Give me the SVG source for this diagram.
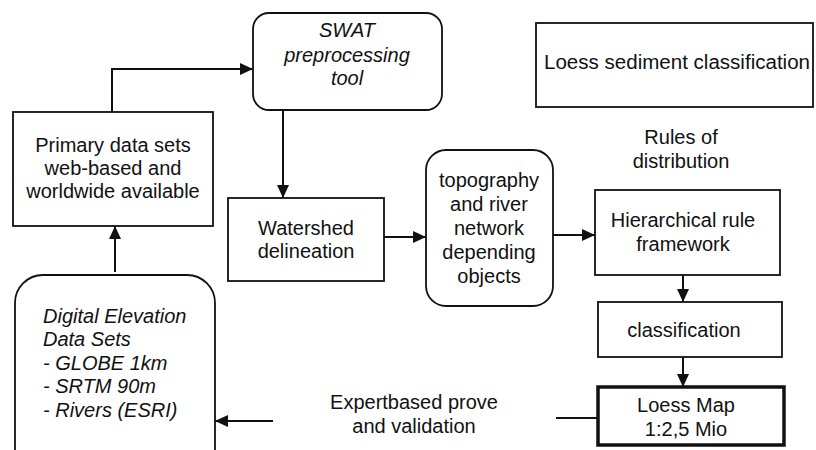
<svg xmlns="http://www.w3.org/2000/svg" width="816" height="450" viewBox="0 0 816 450">
<defs>
<style>
.box{fill:#fff;stroke:#111;stroke-width:1.8}
.thick{fill:#fff;stroke:#111;stroke-width:3.5}
.t{font-family:"Liberation Sans",Arial,sans-serif;font-size:20px;fill:#111;text-anchor:middle}
.i{font-style:italic}
.l{text-anchor:start}
.c{fill:none;stroke:#111;stroke-width:2}
</style>
<marker id="ah" markerUnits="userSpaceOnUse" markerWidth="13" markerHeight="12" refX="13" refY="6" orient="auto">
<path d="M0,0 L13,6 L0,12 z" fill="#111"/>
</marker>
</defs>
<rect width="816" height="450" fill="#fff"/>

<g id="connectors">
<path class="c" d="M112,112 V69 H253" marker-end="url(#ah)"/>
<path class="c" d="M283,110 V198" marker-end="url(#ah)"/>
<path class="c" d="M384,237 H426" marker-end="url(#ah)"/>
<path class="c" d="M553,235 H595" marker-end="url(#ah)"/>
<path class="c" d="M683,275 V302" marker-end="url(#ah)"/>
<path class="c" d="M683,357 V387" marker-end="url(#ah)"/>
<path class="c" d="M115,272 V226" marker-end="url(#ah)"/>
<path class="c" d="M273,421 H215" marker-end="url(#ah)"/>
<path class="c" d="M556,418 H598"/>
</g>

<g id="swat">
<rect class="box" x="253" y="13" width="189" height="97" rx="16"/>
<text class="t i" x="347" y="37">SWAT</text>
<text class="t i" x="347" y="62">preprocessing</text>
<text class="t i" x="347" y="85">tool</text>
</g>

<g id="primary">
<rect class="box" x="13" y="112" width="200" height="114"/>
<text class="t" x="113" y="152">Primary data sets</text>
<text class="t" x="113" y="175">web-based and</text>
<text class="t" x="113" y="198">worldwide available</text>
</g>

<g id="watershed">
<rect class="box" x="228" y="198" width="156" height="83"/>
<text class="t" x="306" y="235">Watershed</text>
<text class="t" x="306" y="258">delineation</text>
</g>

<g id="topography">
<rect class="box" x="426" y="150" width="127" height="156" rx="20"/>
<text class="t" x="489" y="187">topography</text>
<text class="t" x="489" y="211">and river</text>
<text class="t" x="489" y="235">network</text>
<text class="t" x="489" y="259">depending</text>
<text class="t" x="489" y="283">objects</text>
</g>

<g id="loess-sediment">
<rect class="box" x="536" y="23" width="277" height="84"/>
<text class="t l" x="544" y="69" textLength="266" lengthAdjust="spacingAndGlyphs">Loess sediment classification</text>
</g>

<g id="rules">
<text class="t" x="681" y="144">Rules of</text>
<text class="t" x="681" y="168">distribution</text>
</g>

<g id="hierarchical">
<rect class="box" x="595" y="190" width="185" height="85"/>
<text class="t" x="683" y="227">Hierarchical rule</text>
<text class="t" x="683" y="251">framework</text>
</g>

<g id="classification">
<rect class="box" x="598" y="302" width="184" height="55"/>
<text class="t" x="684" y="337">classification</text>
</g>

<g id="loess-map">
<rect class="thick" x="598" y="387" width="186" height="58"/>
<text class="t" x="686" y="412">Loess Map</text>
<text class="t" x="686" y="436">1:2,5 Mio</text>
</g>

<g id="expert">
<text class="t" x="414" y="409">Expertbased prove</text>
<text class="t" x="414" y="433">and validation</text>
</g>

<g id="dem">
<rect class="box" x="15" y="275" width="200" height="210" rx="28"/>
<text class="t i l" x="43" y="323">Digital Elevation</text>
<text class="t i l" x="43" y="346">Data Sets</text>
<text class="t i l" x="43" y="370">- GLOBE 1km</text>
<text class="t i l" x="43" y="393">- SRTM 90m</text>
<text class="t i l" x="43" y="417">- Rivers (ESRI)</text>
</g>
</svg>
